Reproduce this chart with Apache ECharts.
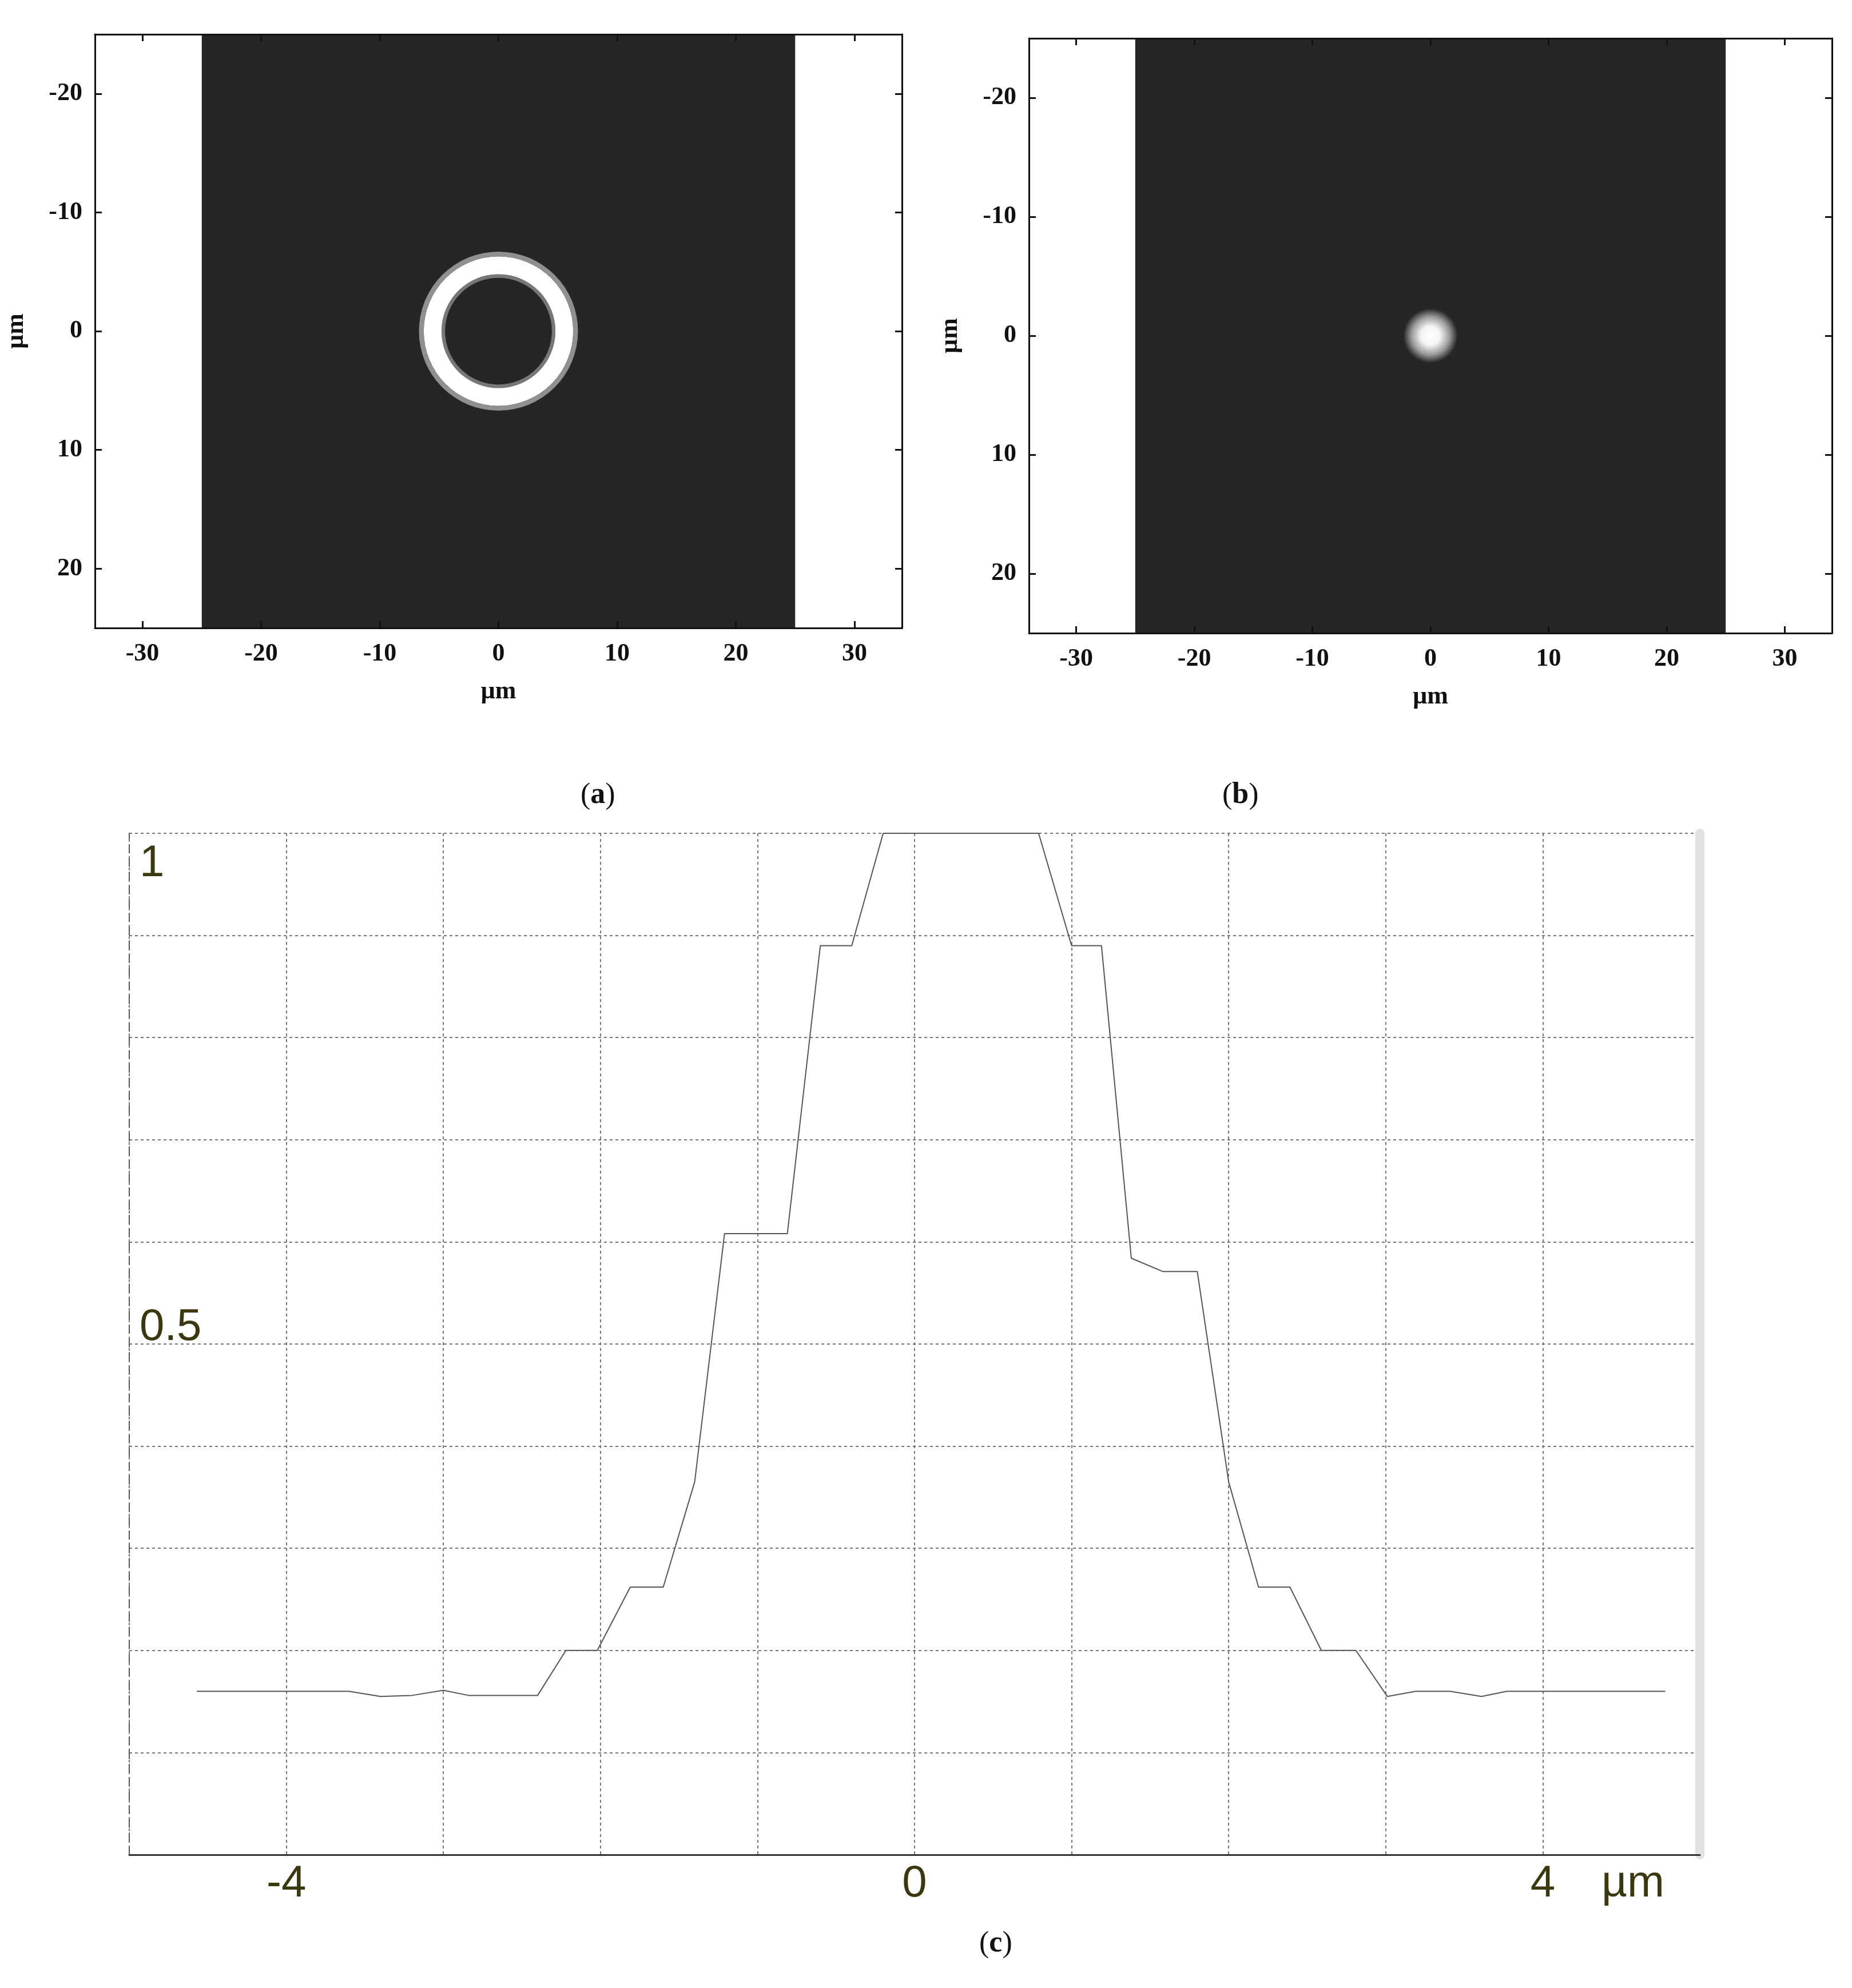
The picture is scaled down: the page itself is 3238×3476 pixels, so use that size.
<!DOCTYPE html>
<html><head><meta charset="utf-8">
<script src="https://cdn.jsdelivr.net/npm/echarts@6/dist/echarts.min.js"></script>
<style>html,body{margin:0;padding:0;background:#fff}#c{width:3238px;height:3476px}</style>
</head><body><div id="c"></div>
<script>
// ---- data ----
const imgTicksX = [-30, -20, -10, 0, 10, 20, 30];
const imgTicksY = [-20, -10, 0, 10, 20];
const darkRect = [[-25, 25, -25, 25]];             // xmin, xmax, ymin, ymax (µm)
// ring bands for (a): [cx, cy, innerR, outerR, colour]
const ringBands = [
  [0, 0, 4.5, 4.8, '#777777'],
  [0, 0, 4.8, 6.3, '#ffffff'],
  [0, 0, 6.3, 6.7, '#909090']
];
// focal spot for (b): [cx, cy, radius]
const spot = [[0, 0, 2.3]];
// profile (c)
const profX = [-4.57,-3.60,-3.40,-3.20,-3.00,-2.84,-2.40,-2.22,-2.02,-1.81,-1.60,-1.40,-1.21,-0.81,-0.60,-0.40,-0.20,0.79,1.00,1.19,1.38,1.58,1.80,2.00,2.19,2.39,2.59,2.81,3.01,3.19,3.41,3.61,3.77,4.78];
const profY = [0.160,0.160,0.155,0.156,0.161,0.156,0.156,0.200,0.200,0.262,0.262,0.365,0.608,0.608,0.890,0.890,1.0,1.0,0.890,0.890,0.584,0.571,0.571,0.365,0.262,0.262,0.200,0.200,0.155,0.160,0.160,0.155,0.160,0.160];
const profXLabels = [-4, 0, 4];
const profYLabels = [0.5, 1];

const serif = 'Liberation Serif';
const tickLbl = {fontFamily: serif, fontWeight: 'bold', fontSize: 44, color: '#111'};
const frame = {onZero: false, lineStyle: {color: '#111', width: 3}};

function imgAxes(gi) {
  const xs = [
    {gridIndex: gi, type: 'value', min: -34, max: 34, position: 'bottom',
     name: 'µm', nameLocation: 'middle', nameGap: 90, nameTextStyle: tickLbl,
     axisLine: frame, z: 10,
     axisTick: {inside: true, length: 12, customValues: imgTicksX, lineStyle: {color: '#111', width: 3}},
     axisLabel: Object.assign({customValues: imgTicksX, margin: 24}, tickLbl),
     splitLine: {show: false}},
    {gridIndex: gi, type: 'value', min: -34, max: 34, position: 'top',
     axisLine: frame, z: 10,
     axisTick: {inside: true, length: 12, customValues: imgTicksX, lineStyle: {color: '#111', width: 3}},
     axisLabel: {show: false}, splitLine: {show: false}}
  ];
  const ys = [
    {gridIndex: gi, type: 'value', min: -25, max: 25, inverse: true, position: 'left',
     name: 'µm', nameLocation: 'middle', nameGap: 115, nameRotate: 90, nameTextStyle: tickLbl,
     axisLine: frame, z: 10,
     axisTick: {inside: true, length: 12, customValues: imgTicksY, lineStyle: {color: '#111', width: 3}},
     axisLabel: Object.assign({customValues: imgTicksY, margin: 22}, tickLbl),
     splitLine: {show: false}},
    {gridIndex: gi, type: 'value', min: -25, max: 25, inverse: true, position: 'right',
     axisLine: frame, z: 10,
     axisTick: {inside: true, length: 12, customValues: imgTicksY, lineStyle: {color: '#111', width: 3}},
     axisLabel: {show: false}, splitLine: {show: false}}
  ];
  return {xs, ys};
}
const A = imgAxes(0), B = imgAxes(1);

const olive = '#3b3810';
const rectItem = (p, api) => {
  const a = api.coord([api.value(0), api.value(2)]), b = api.coord([api.value(1), api.value(3)]);
  return {type: 'rect', shape: {x: Math.min(a[0], b[0]), y: Math.min(a[1], b[1]), width: Math.abs(b[0] - a[0]), height: Math.abs(b[1] - a[1])}, style: {fill: '#262626'}};
};
const option = {
  backgroundColor: '#ffffff',
  animation: false,
  grid: [
    {left: 166, top: 60, width: 1411, height: 1038},
    {left: 1799, top: 67, width: 1404, height: 1040},
    {left: 226, top: 1457, width: 2746, height: 1786}
  ],
  xAxis: [...A.xs, ...B.xs,
    {gridIndex: 2, type: 'value', min: -5, max: 5, interval: 1,
     axisLine: {onZero: false, lineStyle: {color: '#333', width: 3}},
     axisTick: {show: false},
     axisLabel: {margin: 12, fontFamily: 'Liberation Sans', fontSize: 78, color: olive,
       formatter: v => profXLabels.includes(v) ? String(v) : ''},
     splitLine: {show: true, lineStyle: {color: '#777', type: [5, 5], width: 2}}}
  ],
  yAxis: [...A.ys, ...B.ys,
    {gridIndex: 2, type: 'value', min: 0, max: 1, interval: 0.1,
     axisLine: {show: true, onZero: false, lineStyle: {color: '#555', type: [14, 10], width: 2}},
     axisTick: {show: false},
     axisLabel: {inside: true, margin: 18, fontFamily: 'Liberation Sans', fontSize: 78, color: olive,
       verticalAlign: 'middle',
       formatter: v => {
         const r = Math.round(v * 10) / 10;
         if (!profYLabels.includes(r)) return '';
         return r === 1 ? '{a|1}' : '{b|0.5}';
       },
       rich: {a: {fontSize: 78, color: olive, padding: [106, 0, 0, 0]},
              b: {fontSize: 78, color: olive, padding: [0, 0, 58, 0]}}},
     splitLine: {show: true, lineStyle: {color: '#777', type: [5, 5], width: 2}}},
    {gridIndex: 2, type: 'value', min: 0, max: 1, position: 'right',
     axisLine: {show: true, onZero: false, lineStyle: {color: '#e2e2e2', width: 16}},
     axisTick: {show: false}, axisLabel: {show: false}, splitLine: {show: false}}
  ],
  series: [
    {type: 'custom', xAxisIndex: 0, yAxisIndex: 0, data: darkRect, silent: true, z: 1, renderItem: rectItem},
    {type: 'custom', xAxisIndex: 0, yAxisIndex: 0, data: ringBands, silent: true, z: 3,
     renderItem: (p, api) => {
       const c = api.coord([api.value(0), api.value(1)]);
       const r0 = api.size([api.value(2), 0])[0], r = api.size([api.value(3), 0])[0];
       return {type: 'ring', shape: {cx: c[0], cy: c[1], r0: r0, r: r}, style: {fill: ringBands[p.dataIndex][4]}};
     }},
    {type: 'custom', xAxisIndex: 2, yAxisIndex: 2, data: darkRect, silent: true, z: 1, renderItem: rectItem},
    {type: 'custom', xAxisIndex: 2, yAxisIndex: 2, data: spot, silent: true, z: 3,
     renderItem: (p, api) => {
       const c = api.coord([api.value(0), api.value(1)]);
       const r = api.size([api.value(2), 0])[0];
       return {type: 'circle', shape: {cx: c[0], cy: c[1], r: r},
         style: {fill: new echarts.graphic.RadialGradient(0.5, 0.5, 0.5, [
           {offset: 0, color: '#ffffff'}, {offset: 0.35, color: '#f4f4f4'},
           {offset: 0.7, color: '#9a9a9a'}, {offset: 1, color: '#262626'}])}};
     }},
    {type: 'line', xAxisIndex: 4, yAxisIndex: 4, showSymbol: false, silent: true,
     data: profX.map((x, i) => [x, profY[i]]),
     lineStyle: {color: '#555', width: 2}}
  ],
  graphic: [
    {type: 'text', left: 1015, top: 1365, style: {text: '({b|a})', font: '52px "Liberation Serif"', fill: '#111', rich: {b: {fontFamily: serif, fontWeight: 'bold', fontSize: 52, fill: '#111'}}}},
    {type: 'text', left: 2137, top: 1365, style: {text: '({b|b})', font: '52px "Liberation Serif"', fill: '#111', rich: {b: {fontFamily: serif, fontWeight: 'bold', fontSize: 52, fill: '#111'}}}},
    {type: 'text', left: 1712, top: 3373, style: {text: '({b|c})', font: '52px "Liberation Serif"', fill: '#111', rich: {b: {fontFamily: serif, fontWeight: 'bold', fontSize: 52, fill: '#111'}}}},
    {type: 'text', left: 2800, top: 3255, style: {text: 'µm', font: '78px "Liberation Sans"', fill: olive}}
  ]
};
const chart = echarts.init(document.getElementById('c'));
chart.setOption(option);
</script></body></html>
